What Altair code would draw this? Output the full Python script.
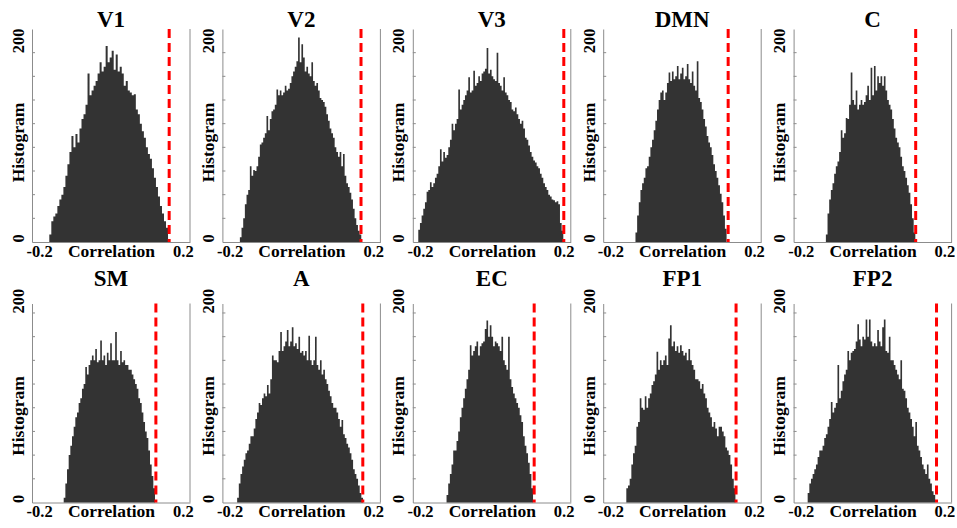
import altair as alt
import pandas as pd

names = ["V1", "V2", "V3", "DMN", "C", "SM", "A", "EC", "FP1", "FP2"]
red_line = [0.162, 0.166, 0.2005, 0.128, 0.120, 0.125, 0.171, 0.118, 0.150, 0.178]
hist_start = [-0.169, -0.169, -0.2024, -0.1278, -0.1278, -0.1294, -0.1766, -0.1237, -0.1533, -0.1785]
hist_end = [0.156, 0.1644, 0.1968, 0.1213, 0.1167, 0.1202, 0.1693, 0.1125, 0.1459, 0.172]

counts_V1 = [8, 22, 27, 30, 38, 45, 50, 58, 70, 82, 95, 112, 100, 114, 105, 120, 130, 135, 145, 178,
             155, 160, 165, 170, 178, 190, 180, 185, 207, 190, 195, 202, 182, 198, 180, 185, 178, 165, 170, 160,
             158, 155, 156, 140, 135, 125, 117, 110, 100, 93, 88, 78, 68, 58, 48, 38, 30, 22, 15]
counts_V2 = [5, 15, 25, 40, 50, 55, 80, 70, 76, 75, 80, 90, 103, 105, 110, 115, 133, 118, 130, 138,
             140, 145, 161, 155, 160, 155, 158, 165, 160, 162, 168, 175, 180, 185, 191, 216, 190, 209, 195, 180,
             185, 178, 175, 190, 170, 165, 168, 160, 152, 150, 148, 143, 135, 128, 120, 115, 110, 100, 95, 90,
             95, 80, 93, 70, 62, 58, 52, 45, 35, 25, 18, 12, 8]
counts_V3 = [13, 20, 28, 35, 42, 53, 55, 63, 58, 62, 68, 72, 80, 98, 85, 95, 89, 92, 100, 108,
             125, 118, 125, 130, 161, 140, 145, 150, 155, 160, 174, 158, 160, 181, 165, 168, 175, 170, 178, 180,
             183, 205, 178, 182, 175, 172, 170, 200, 168, 165, 160, 174, 158, 155, 150, 148, 140, 138, 142, 135,
             130, 125, 128, 120, 110, 108, 102, 95, 90, 86, 84, 80, 78, 72, 68, 62, 58, 55, 50, 48,
             45, 44, 42, 43, 40, 20, 12]
counts_DMN = [10, 28, 42, 55, 62, 68, 78, 80, 90, 100, 108, 118, 128, 140, 150, 158, 160, 150, 158, 168,
              179, 170, 180, 172, 175, 186, 172, 178, 184, 172, 175, 188, 172, 168, 180, 165, 160, 191, 152, 148,
              140, 130, 122, 112, 105, 100, 92, 82, 75, 68, 60, 51, 42, 28, 14]
counts_C = [8, 30, 45, 55, 62, 72, 80, 85, 95, 118, 110, 115, 131, 130, 145, 179, 150, 145, 160, 140,
            145, 150, 145, 148, 155, 165, 150, 184, 155, 186, 160, 175, 168, 175, 165, 175, 160, 150, 145, 140,
            130, 120, 110, 105, 100, 90, 80, 75, 68, 60, 52, 40, 25, 10]
counts_SM = [5, 20, 35, 50, 60, 70, 80, 90, 95, 105, 110, 120, 125, 143, 135, 145, 150, 155, 150, 162,
             148, 150, 171, 150, 155, 145, 158, 150, 168, 150, 150, 180, 150, 145, 160, 148, 150, 145, 145, 140,
             140, 135, 130, 125, 120, 110, 105, 95, 85, 75, 68, 55, 40, 28, 15]
counts_A = [5, 20, 30, 38, 45, 52, 55, 62, 70, 70, 78, 88, 95, 105, 103, 110, 115, 112, 124, 115,
            130, 155, 150, 150, 148, 160, 180, 160, 165, 170, 182, 165, 170, 185, 165, 168, 162, 175, 158, 160,
            155, 160, 150, 176, 150, 145, 150, 175, 145, 140, 150, 135, 140, 130, 125, 118, 112, 105, 100, 100,
            95, 88, 80, 87, 72, 68, 62, 58, 52, 45, 35, 30, 25, 18, 10, 5]
counts_EC = [8, 20, 30, 40, 55, 55, 65, 75, 90, 100, 110, 120, 130, 140, 166, 155, 160, 165, 170, 155,
             165, 168, 170, 183, 192, 175, 187, 175, 165, 170, 168, 165, 160, 175, 150, 145, 140, 175, 130, 122,
             115, 110, 105, 100, 92, 85, 70, 60, 52, 42, 30, 15]
counts_FP1 = [15, 18, 25, 40, 52, 60, 80, 85, 110, 100, 98, 112, 100, 110, 115, 124, 128, 135, 159, 140,
              150, 145, 150, 155, 145, 173, 187, 165, 170, 160, 165, 158, 166, 160, 155, 158, 150, 162, 150, 145,
              140, 130, 130, 128, 120, 125, 115, 110, 100, 95, 90, 80, 85, 78, 70, 80, 80, 75, 70, 58,
              55, 50, 40, 25, 15]
counts_FP2 = [10, 20, 25, 30, 35, 40, 48, 55, 55, 60, 68, 72, 80, 88, 106, 95, 100, 105, 145, 110,
              118, 128, 135, 140, 160, 150, 158, 160, 162, 170, 188, 172, 165, 175, 172, 193, 175, 193, 170, 165,
              168, 165, 182, 170, 165, 185, 193, 160, 158, 175, 150, 150, 145, 140, 135, 130, 150, 120, 118, 110,
              100, 95, 88, 80, 70, 85, 60, 55, 48, 40, 35, 30, 40, 25, 20, 12, 8]

all_counts = [counts_V1, counts_V2, counts_V3, counts_DMN, counts_C,
              counts_SM, counts_A, counts_EC, counts_FP1, counts_FP2]
x_ticks = [-0.2, 0.2]
y_ticks = [0, 200]
minor_ticks = [25, 50, 75, 100, 125, 150, 175, 200]

FONT = "Liberation Serif"
GRAY = "#8c8c8c"
W = 158


def panel(i, H, ymax, title_off, title_y):
    counts = all_counts[i]
    n = len(counts)
    step = (hist_end[i] - hist_start[i]) / (n - 1)
    # bin left edges, plus the closing right edge of the last bin (step-after area)
    edges = [hist_start[i] + (k - 0.5) * step for k in range(n + 1)]
    df = pd.DataFrame({
        "lo": edges,
        "count": counts + [counts[-1]],
    })
    xs = alt.Scale(domain=[-0.22, 0.22], nice=False, zero=False)
    ys = alt.Scale(domain=[0, ymax], nice=False)
    xaxis = alt.Axis(values=x_ticks, labelExpr="toString(datum.value)", title="Correlation",
                     grid=False, ticks=False, tickSize=0, labelFlush=False, labelOverlap=False,
                     labelPadding=1, labelBaseline="top", labelAlign="center",
                     labelFont=FONT, labelFontSize=16.5, labelFontWeight="bold", labelColor="black",
                     titleFont=FONT, titleFontSize=17.5, titleFontWeight="bold", titleColor="black",
                     titleX=W / 2, titleY=0, titleBaseline="top", titleAlign="center",
                     domainColor=GRAY, domainWidth=1)
    yaxis = alt.Axis(values=y_ticks, title="Histogram", grid=False, ticks=False, tickSize=0,
                     labelFlush=False, labelOverlap=False,
                     labelAngle=270, labelAlign="left", labelBaseline="alphabetic", labelPadding=9,
                     labelFont=FONT, labelFontSize=16.5, labelFontWeight="bold", labelColor="black",
                     titleAngle=270, titleX=-9, titleY=title_y, titleAlign="center",
                     titleBaseline="alphabetic",
                     titleFont=FONT, titleFontSize=17.5, titleFontWeight="bold", titleColor="black",
                     domainColor=GRAY, domainWidth=1)
    bars = alt.Chart(df).mark_area(color="#333333", interpolate="step-after", opacity=1).encode(
        x=alt.X("lo:Q", scale=xs, axis=xaxis),
        y=alt.Y("count:Q", scale=ys, axis=yaxis),
    )
    red = alt.Chart(pd.DataFrame({"lo": [red_line[i]]})).mark_rule(
        color="#ff0000", strokeWidth=3, strokeDash=[9, 5]
    ).encode(x=alt.X("lo:Q", scale=xs), y=alt.value(0), y2=alt.value(H))
    minor = alt.Chart(pd.DataFrame({"count": minor_ticks})).mark_rule(color=GRAY, strokeWidth=1).encode(
        x=alt.value(0), x2=alt.value(3), y=alt.Y("count:Q", scale=ys)
    )
    border = alt.Chart(pd.DataFrame({"a": [0]})).mark_rule(color=GRAY, strokeWidth=1).encode(
        x=alt.value(W), y=alt.value(0), y2=alt.value(H)
    )
    return alt.layer(bars, red, minor, border).properties(
        width=W, height=H,
        title=alt.TitleParams(text=names[i], font=FONT, fontSize=23, fontWeight="bold", color="black",
                              anchor="middle", baseline="alphabetic", offset=title_off, frame="group"),
    )


H1, H2 = 213, 199
panels = [panel(i, H1, 225, -22.5, 113) for i in range(5)] + \
         [panel(i, H2, 210, -20.5, 112) for i in range(5, 10)]
chart = alt.concat(
    *panels, columns=5, bounds="flush", align="each",
    spacing=alt.RowColnumber(row=61.5, column=32.4),
).properties(
    padding={"left": 9, "top": 9, "right": 0, "bottom": 0},
    background="white",
).configure_view(stroke=None)

chart.save("out.html", embed_options={"renderer": "svg", "actions": False})
